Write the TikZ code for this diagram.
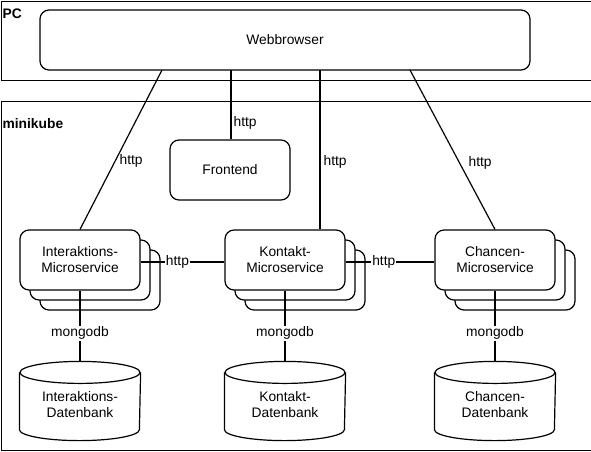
\documentclass[tikz,border=0pt]{standalone}
\usepackage{fontspec}
\setmainfont{Liberation Sans}
\usetikzlibrary{calc}
\begin{document}
\begin{tikzpicture}[x=1pt,y=-1pt,line width=1.2pt,
  txt/.style={font=\fontsize{13.8}{16}\selectfont, align=center},
  box/.style={draw, rounded corners=9pt, fill=white, minimum width=120pt, minimum height=60pt, inner sep=0pt, txt},
  frame/.style={draw, minimum width=590pt, inner sep=0pt, anchor=north west},
  ttl/.style={font=\bfseries\fontsize{13.8}{16}\selectfont, inner sep=0pt, anchor=west},
  lbl/.style={inner sep=1pt, font=\fontsize{13.8}{16}\selectfont},
  wlbl/.style={lbl, fill=white},
  dbshape/.style={minimum width=120pt, minimum height=78pt, inner sep=0pt}]
\useasboundingbox (0,0) rectangle (591,451);
% frames
\node[frame, minimum height=79pt] (pc) at (0.6,0.6) {};
\node[frame, minimum height=349pt] (mk) at (0.6,100.5) {};
\node[ttl] (pct) at (2,14) {PC};
\node[ttl] (mkt) at (2,124) {minikube};
% boxes
\node[box, minimum width=490pt] (wb) at (285,40) {Webbrowser};
\node[box] (fe) at (230,170) {Frontend};
\node[box] (ims3) at (100,280) {};
\node[box] (ims2) at (90,270) {};
\node[box] (ims) at (80,260) {Interaktions-\\Microservice};
\node[box] (kms3) at (305,280) {};
\node[box] (kms2) at (295,270) {};
\node[box] (kms) at (285,260) {Kontakt-\\Microservice};
\node[box] (cms3) at (515,280) {};
\node[box] (cms2) at (505,270) {};
\node[box] (cms) at (495,260) {Chancen-\\Microservice};
% databases
\foreach \n/\x/\t in {idb/80/Interaktions-, kdb/285/Kontakt-, cdb/495/Chancen-}{
  \node[dbshape] (\n) at (\x,401) {};
  \draw ([yshift=-11pt]\n.north west) -- ([yshift=11pt]\n.south west)
        arc[start angle=180, end angle=360, x radius=60pt, y radius=11pt]
        -- ([yshift=-11pt]\n.north east);
  \draw ([yshift=-11pt]\n.north) ellipse[x radius=60pt, y radius=11pt];
  \node[txt, inner sep=0pt] (\n t) at (\x,405) {\t\\Datenbank};
}
% connectors from browser
\coordinate (wbI) at (162,70);
\coordinate (wbF) at (231,70);
\coordinate (wbK) at (320,70);
\coordinate (wbC) at (410,70);
\draw (wbI) -- (ims.north);
\draw (wbF) -- (wbF |- fe.north);
\draw (wbK) -- (wbK |- kms.north);
\draw (wbC) -- (cms.north);
\node[lbl, anchor=west] (h1) at (118,161) {http};
\node[lbl, anchor=west] (h2) at (232,123) {http};
\node[lbl, anchor=west] (h3) at (322,162) {http};
\node[lbl, anchor=west] (h4) at (467,163) {http};
% service to service
\draw ([yshift=-2pt]ims.east) -- node[wlbl, pos=0.44] (h5) {http} ([yshift=-2pt]kms.west);
\draw ([yshift=-2pt]kms.east) -- node[wlbl, pos=0.43] (h6) {http} ([yshift=-2pt]cms.west);
% service to db
\draw (ims.south) -- node[wlbl, pos=0.6] (m1) {mongodb} (idb.north);
\draw (kms.south) -- node[wlbl, pos=0.6] (m2) {mongodb} (kdb.north);
\draw (cms.south) -- node[wlbl, pos=0.6] (m3) {mongodb} (cdb.north);
\end{tikzpicture}
\end{document}
